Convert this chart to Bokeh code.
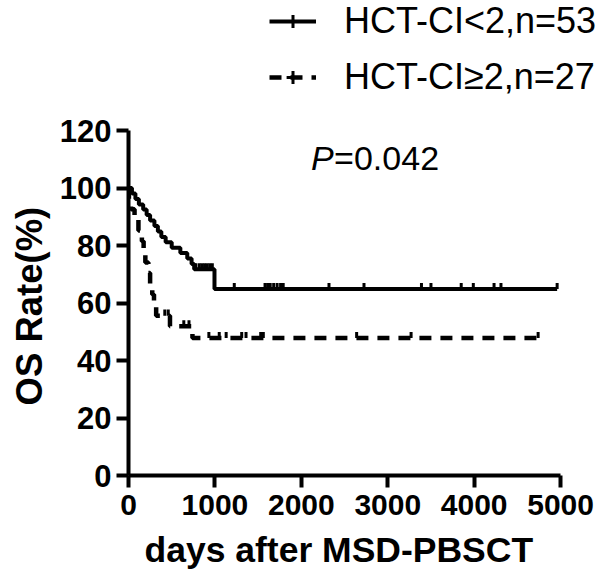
import numpy as np
from bokeh.plotting import figure
from bokeh.models import Range1d, Legend, LegendItem, Label, FixedTicker, Title
from bokeh.embed import file_html
from bokeh.resources import INLINE

# ---------------- data ----------------
# HCT-CI<2, n=53 : event days and survival (%) after each event
solid_days = [0, 40, 80, 120, 170, 210, 250, 300, 340, 380, 430, 500, 600, 680, 730, 760, 995]
solid_surv = [100, 98.1, 96.2, 94.3, 92.5, 90.6, 88.7, 86.8, 84.9, 83.0, 81.1, 79.2, 77.4, 75.5, 73.6, 71.7, 64.9]
solid_last = 4960
solid_censor = [780, 820, 850, 880, 910, 940, 970, 1224, 1580, 1610, 1640, 1680, 1720, 1760, 1790,
                2320, 2725, 3390, 3500, 3850, 3990, 4230, 4310, 4960]

# HCT-CI>=2, n=27
dash_days = [0, 5, 30, 70, 115, 155, 175, 195, 230, 250, 275, 295, 320, 480, 740]
dash_surv = [100, 96.3, 92.6, 88.9, 85.2, 81.5, 77.8, 74.1, 70.4, 66.7, 63.0, 59.3, 55.6, 51.9, 47.8]
dash_last = 4740
dash_censor = [420, 460, 640, 700, 930, 1050, 1130, 1310, 1360, 1530, 1560, 2640, 3270, 4740]

x_ticks = [0, 1000, 2000, 3000, 4000, 5000]
y_ticks = [0, 20, 40, 60, 80, 100, 120]
labels = ["HCT-CI<2,n=53", "HCT-CI\u22652,n=27"]
p_text = ["P", "=0.042"]
x_title = "days after MSD-PBSCT"
y_title = "OS Rate(%)"

FONT = "Liberation Sans"
TICK_UP = 2.1  # censor tick height in y units

# layout (pixels)
W, H = 603, 587
LEFT, BOTTOM = 127, 112
FRAME_W, FRAME_H = W - LEFT, H - BOTTOM
X_END = FRAME_W * 5000 / 433.0   # 5000 days span 433 px
Y_END = FRAME_H * 120 / 345.0    # 120 % spans 345 px


def km_path(days, surv, last):
    xs = list(days) + [last]
    ys = list(surv) + [surv[-1]]
    return xs, ys


def censor_y(days, surv, cens):
    idx = np.searchsorted(np.array(days), np.array(cens), side="right") - 1
    return [surv[i] for i in idx]


p = figure(width=W, height=H, output_backend="svg", toolbar_location=None,
           x_range=Range1d(0, X_END), y_range=Range1d(0, Y_END),
           min_border_left=LEFT, min_border_right=0, min_border_top=0, min_border_bottom=BOTTOM)
p.outline_line_color = None
p.xgrid.visible = False
p.ygrid.visible = False
p.background_fill_color = "white"
p.border_fill_color = "white"

# curves
sx, sy = km_path(solid_days, solid_surv, solid_last)
r_solid = p.step(sx, sy, mode="after", line_color="black", line_width=4)
dx, dy = km_path(dash_days, dash_surv, dash_last)
r_dash = p.step(dx, dy, mode="after", line_color="black", line_width=4.5, line_dash="12 9")

# censor ticks
scy = censor_y(solid_days, solid_surv, solid_censor)
p.segment(x0=solid_censor, y0=scy, x1=solid_censor, y1=[v + TICK_UP for v in scy],
          line_color="black", line_width=3)
dcy = censor_y(dash_days, dash_surv, dash_censor)
p.segment(x0=dash_censor, y0=dcy, x1=dash_censor, y1=[v + TICK_UP for v in dcy],
          line_color="black", line_width=3)

# legend tick glyphs (zero-size in the plot, drawn only as legend symbols)
lt1 = p.scatter(x=solid_censor, y=scy, marker="cross", size=0, line_color="black", line_width=3)
lt2 = p.scatter(x=dash_censor, y=dcy, marker="cross", size=0, line_color="black", line_width=3)

legend = Legend(items=[LegendItem(label=labels[0], renderers=[r_solid, lt1]),
                       LegendItem(label=labels[1], renderers=[r_dash, lt2])],
                location=(141, 377), orientation="vertical",
                label_text_font=FONT, label_text_font_size="36px", label_text_color="black",
                glyph_width=47, glyph_height=32, label_height=32, label_standoff=28,
                spacing=14, padding=0, margin=0, border_line_color=None,
                background_fill_alpha=0)
p.add_layout(legend)

# P value
p.add_layout(Label(x=2113, y=110.3, text=p_text[0], text_font=FONT, text_font_style="italic",
                   text_font_size="34px", text_color="black", text_baseline="alphabetic"))
p.add_layout(Label(x=2113, y=110.3, x_offset=23, text=p_text[1], text_font=FONT,
                   text_font_size="34px", text_color="black", text_baseline="alphabetic"))

# axes
for ax in (p.xaxis[0], p.yaxis[0]):
    ax.axis_line_width = 4
    ax.axis_line_color = "black"
    ax.major_tick_line_width = 4
    ax.major_tick_line_color = "black"
    ax.major_tick_out = 12
    ax.major_tick_in = 0
    ax.minor_tick_line_color = None
    ax.major_label_text_font = FONT
    ax.major_label_text_font_style = "bold"
    ax.major_label_text_color = "black"

p.xaxis.bounds = (0, 5000)
p.yaxis.bounds = (0, 120)
p.xaxis.ticker = FixedTicker(ticks=x_ticks)
p.yaxis.ticker = FixedTicker(ticks=y_ticks)
p.xaxis.major_label_text_font_size = "30px"
p.yaxis.major_label_text_font_size = "31px"
p.xaxis.major_label_standoff = 7
p.yaxis.major_label_standoff = 5

# axis titles, aligned to the 0..5000 / 0..120 span rather than the whole frame
p.add_layout(Title(text=x_title, align="left", offset=16, standoff=21,
                   text_font=FONT, text_font_style="bold", text_font_size="35.5px",
                   text_color="black"), "below")
p.add_layout(Title(text=y_title, align="left", offset=70, standoff=13,
                   text_font=FONT, text_font_style="bold", text_font_size="36.5px",
                   text_color="black"), "left")

open("out.html", "w").write(file_html(p, INLINE))
